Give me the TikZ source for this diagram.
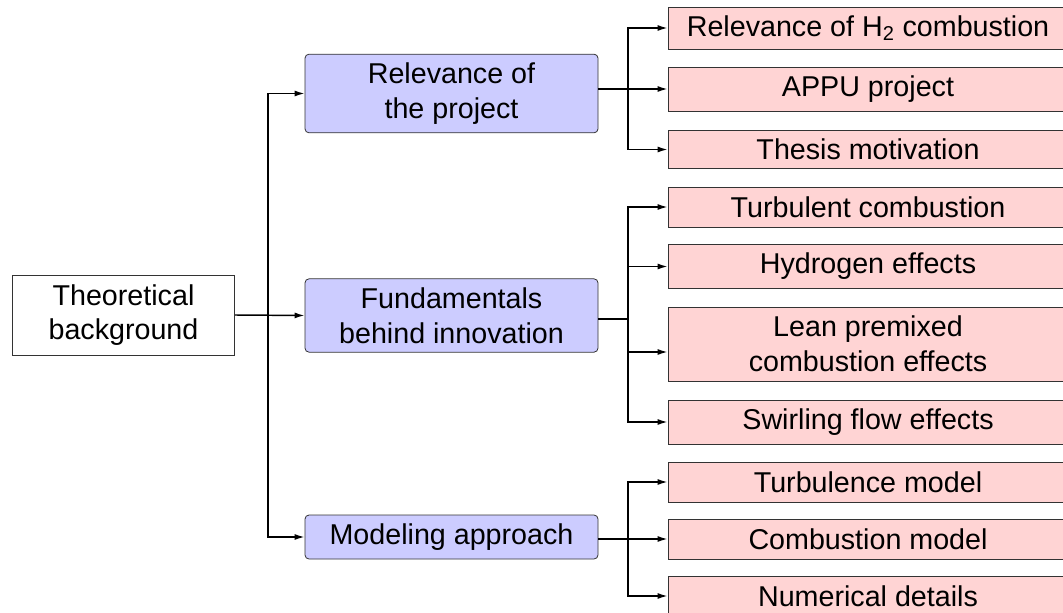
\documentclass[tikz,border=0pt]{standalone}
\usepackage{fontspec}
\setmainfont{Liberation Sans}
\usetikzlibrary{arrows.meta,positioning,calc}

\begin{document}
\begin{tikzpicture}[
    x=0.75pt, y=-0.75pt,
    base/.style={draw=black!80, line width=0.6pt, align=center, inner sep=2pt, font=\fontsize{21.5}{26}\selectfont},
    rootbox/.style={base, fill=white, minimum width=167pt, minimum height=60pt},
    mainbox/.style={base, fill=blue!20, rounded corners=3pt, minimum width=219.75pt},
    subbox/.style={base, fill=red!17, minimum width=300pt},
    link/.style={line width=1.1pt},
    arrow/.style={link, -{Latex[length=7.5pt,width=4.5pt]}}
]
    \clip (0,0) rectangle (1063,613);

    % root
    \node[rootbox] (theory) at (123.5,315) {Theoretical\\background};

    % main topics
    \node[mainbox, minimum height=59pt] (rel) at (451.5,93.5) {Relevance of\\the project};
    \node[mainbox, minimum height=55pt] (fund) at (451.5,315.5) {Fundamentals\\behind innovation};
    \node[mainbox, minimum height=33pt] (model) at (451.5,537) {Modeling approach};

    % sub topics
    \node[subbox, minimum height=31.5pt] (h2) at (868,28) {Relevance of H\textsubscript{2} combustion};
    \node[subbox, minimum height=33pt] (appu) at (868,89) {APPU project};
    \node[subbox, minimum height=29pt] (thesis) at (868,149.5) {Thesis motivation};

    \node[subbox, minimum height=30pt] (turbc) at (868,207) {Turbulent combustion};
    \node[subbox, minimum height=33.5pt] (hyd) at (868,266.5) {Hydrogen effects};
    \node[subbox, minimum height=55.5pt] (lean) at (868,344) {Lean premixed\\combustion effects};
    \node[subbox, minimum height=33pt] (swirl) at (868,422) {Swirling flow effects};

    \node[subbox, minimum height=30pt] (turbm) at (868,482) {Turbulence model};
    \node[subbox, minimum height=30pt] (combm) at (868,539) {Combustion model};
    \node[subbox, minimum height=30pt] (num) at (868,596) {Numerical details};

    % junctions
    \coordinate (trunk) at (268,315);
    \coordinate (b1) at (628,89);
    \coordinate (b2) at (628,319);
    \coordinate (b3) at (628,539);

    % root to main topics
    \draw[arrow] (theory.east) -- (fund.west);
    \draw[arrow] (trunk) |- (rel.west);
    \draw[arrow] (trunk) |- (model.west);

    % main topics to sub topics
    \draw[link] (rel.east |- b1) -- (b1);
    \draw[arrow] (b1) |- (h2.west);
    \draw[arrow] (b1) -- (appu.west);
    \draw[arrow] (b1) |- (thesis.west);

    \draw[link] (fund.east |- b2) -- (b2);
    \draw[arrow] (b2) |- (turbc.west);
    \draw[arrow] (b2) |- (hyd.west);
    \draw[arrow] (b2) |- ($(lean.west)+(0,8)$);
    \draw[arrow] (b2) |- (swirl.west);

    \draw[link] (model.east |- b3) -- (b3);
    \draw[arrow] (b3) |- (turbm.west);
    \draw[arrow] (b3) -- (combm.west);
    \draw[arrow] (b3) |- (num.west);
\end{tikzpicture}
\end{document}
